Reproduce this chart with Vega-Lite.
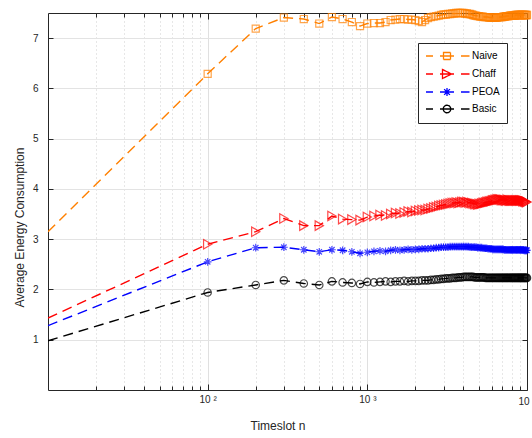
{
  "$schema": "https://vega.github.io/schema/vega-lite/v6.json",
  "width": 479,
  "height": 377,
  "autosize": {"type": "none"},
  "padding": {"left": 48, "top": 13, "right": 5, "bottom": 48},
  "background": "white",
  "config": {
    "view": {"stroke": null},
    "font": "Liberation Sans",
    "legend": {
      "orient": "none", "legendX": 370, "legendY": 30, "title": null,
      "strokeColor": "#262626", "fillColor": "white", "padding": 7,
      "labelFont": "Liberation Sans", "labelFontSize": 10, "labelColor": "#000000",
      "symbolSize": 100, "symbolStrokeWidth": 1.3,
      "rowPadding": 3, "labelOffset": 35
    }
  },
  "data": {"values": [
    {"n":10,"Naive":3.15,"Chaff":1.43,"PEOA":1.28,"Basic":0.98},
    {"n":100,"Naive":6.29,"Chaff":2.90,"PEOA":2.55,"Basic":1.94},
    {"n":200,"Naive":7.19,"Chaff":3.15,"PEOA":2.83,"Basic":2.09},
    {"n":300,"Naive":7.41,"Chaff":3.41,"PEOA":2.84,"Basic":2.18},
    {"n":400,"Naive":7.38,"Chaff":3.27,"PEOA":2.79,"Basic":2.12},
    {"n":500,"Naive":7.29,"Chaff":3.27,"PEOA":2.75,"Basic":2.09},
    {"n":600,"Naive":7.42,"Chaff":3.46,"PEOA":2.79,"Basic":2.16},
    {"n":700,"Naive":7.38,"Chaff":3.40,"PEOA":2.78,"Basic":2.14},
    {"n":800,"Naive":7.32,"Chaff":3.39,"PEOA":2.75,"Basic":2.13},
    {"n":900,"Naive":7.24,"Chaff":3.38,"PEOA":2.72,"Basic":2.11},
    {"n":1000,"Naive":7.29,"Chaff":3.44,"PEOA":2.74,"Basic":2.15},
    {"n":1100,"Naive":7.30,"Chaff":3.46,"PEOA":2.76,"Basic":2.14},
    {"n":1200,"Naive":7.30,"Chaff":3.48,"PEOA":2.77,"Basic":2.15},
    {"n":1300,"Naive":7.32,"Chaff":3.47,"PEOA":2.76,"Basic":2.16},
    {"n":1400,"Naive":7.36,"Chaff":3.50,"PEOA":2.78,"Basic":2.15},
    {"n":1500,"Naive":7.37,"Chaff":3.52,"PEOA":2.79,"Basic":2.16},
    {"n":1600,"Naive":7.38,"Chaff":3.51,"PEOA":2.78,"Basic":2.16},
    {"n":1700,"Naive":7.38,"Chaff":3.53,"PEOA":2.79,"Basic":2.17},
    {"n":1800,"Naive":7.37,"Chaff":3.55,"PEOA":2.80,"Basic":2.16},
    {"n":1900,"Naive":7.37,"Chaff":3.54,"PEOA":2.79,"Basic":2.17},
    {"n":2000,"Naive":7.36,"Chaff":3.56,"PEOA":2.80,"Basic":2.17},
    {"n":2100,"Naive":7.34,"Chaff":3.57,"PEOA":2.80,"Basic":2.17},
    {"n":2200,"Naive":7.32,"Chaff":3.58,"PEOA":2.81,"Basic":2.18},
    {"n":2300,"Naive":7.36,"Chaff":3.58,"PEOA":2.81,"Basic":2.18},
    {"n":2400,"Naive":7.40,"Chaff":3.60,"PEOA":2.81,"Basic":2.18},
    {"n":2500,"Naive":7.42,"Chaff":3.61,"PEOA":2.82,"Basic":2.19},
    {"n":2600,"Naive":7.43,"Chaff":3.63,"PEOA":2.82,"Basic":2.19},
    {"n":2700,"Naive":7.44,"Chaff":3.64,"PEOA":2.83,"Basic":2.20},
    {"n":2800,"Naive":7.45,"Chaff":3.66,"PEOA":2.83,"Basic":2.20},
    {"n":2900,"Naive":7.46,"Chaff":3.67,"PEOA":2.84,"Basic":2.21},
    {"n":3000,"Naive":7.47,"Chaff":3.68,"PEOA":2.84,"Basic":2.21},
    {"n":3100,"Naive":7.47,"Chaff":3.69,"PEOA":2.84,"Basic":2.22},
    {"n":3200,"Naive":7.48,"Chaff":3.70,"PEOA":2.84,"Basic":2.22},
    {"n":3300,"Naive":7.48,"Chaff":3.71,"PEOA":2.85,"Basic":2.22},
    {"n":3400,"Naive":7.49,"Chaff":3.72,"PEOA":2.85,"Basic":2.23},
    {"n":3500,"Naive":7.49,"Chaff":3.72,"PEOA":2.85,"Basic":2.23},
    {"n":3600,"Naive":7.50,"Chaff":3.73,"PEOA":2.85,"Basic":2.23},
    {"n":3700,"Naive":7.50,"Chaff":3.72,"PEOA":2.85,"Basic":2.24},
    {"n":3800,"Naive":7.50,"Chaff":3.73,"PEOA":2.85,"Basic":2.24},
    {"n":3900,"Naive":7.50,"Chaff":3.74,"PEOA":2.85,"Basic":2.24},
    {"n":4000,"Naive":7.50,"Chaff":3.74,"PEOA":2.85,"Basic":2.25},
    {"n":4100,"Naive":7.49,"Chaff":3.73,"PEOA":2.85,"Basic":2.25},
    {"n":4200,"Naive":7.49,"Chaff":3.74,"PEOA":2.85,"Basic":2.25},
    {"n":4300,"Naive":7.48,"Chaff":3.73,"PEOA":2.85,"Basic":2.25},
    {"n":4400,"Naive":7.48,"Chaff":3.72,"PEOA":2.84,"Basic":2.25},
    {"n":4500,"Naive":7.47,"Chaff":3.72,"PEOA":2.84,"Basic":2.25},
    {"n":4600,"Naive":7.46,"Chaff":3.71,"PEOA":2.84,"Basic":2.25},
    {"n":4700,"Naive":7.45,"Chaff":3.70,"PEOA":2.84,"Basic":2.24},
    {"n":4800,"Naive":7.45,"Chaff":3.70,"PEOA":2.84,"Basic":2.24},
    {"n":4900,"Naive":7.44,"Chaff":3.69,"PEOA":2.83,"Basic":2.24},
    {"n":5000,"Naive":7.44,"Chaff":3.70,"PEOA":2.83,"Basic":2.24},
    {"n":5100,"Naive":7.43,"Chaff":3.70,"PEOA":2.83,"Basic":2.24},
    {"n":5200,"Naive":7.43,"Chaff":3.71,"PEOA":2.83,"Basic":2.24},
    {"n":5300,"Naive":7.43,"Chaff":3.72,"PEOA":2.82,"Basic":2.24},
    {"n":5400,"Naive":7.42,"Chaff":3.72,"PEOA":2.82,"Basic":2.24},
    {"n":5500,"Naive":7.42,"Chaff":3.73,"PEOA":2.82,"Basic":2.23},
    {"n":5600,"Naive":7.42,"Chaff":3.74,"PEOA":2.82,"Basic":2.23},
    {"n":5700,"Naive":7.42,"Chaff":3.74,"PEOA":2.81,"Basic":2.23},
    {"n":5800,"Naive":7.41,"Chaff":3.75,"PEOA":2.81,"Basic":2.23},
    {"n":5900,"Naive":7.41,"Chaff":3.75,"PEOA":2.81,"Basic":2.23},
    {"n":6000,"Naive":7.41,"Chaff":3.76,"PEOA":2.81,"Basic":2.23},
    {"n":6100,"Naive":7.41,"Chaff":3.77,"PEOA":2.80,"Basic":2.23},
    {"n":6200,"Naive":7.41,"Chaff":3.77,"PEOA":2.80,"Basic":2.23},
    {"n":6300,"Naive":7.41,"Chaff":3.78,"PEOA":2.80,"Basic":2.23},
    {"n":6400,"Naive":7.41,"Chaff":3.78,"PEOA":2.80,"Basic":2.23},
    {"n":6500,"Naive":7.41,"Chaff":3.79,"PEOA":2.80,"Basic":2.23},
    {"n":6600,"Naive":7.42,"Chaff":3.79,"PEOA":2.80,"Basic":2.23},
    {"n":6700,"Naive":7.42,"Chaff":3.79,"PEOA":2.80,"Basic":2.23},
    {"n":6800,"Naive":7.42,"Chaff":3.79,"PEOA":2.80,"Basic":2.23},
    {"n":6900,"Naive":7.42,"Chaff":3.78,"PEOA":2.80,"Basic":2.23},
    {"n":7000,"Naive":7.42,"Chaff":3.78,"PEOA":2.80,"Basic":2.23},
    {"n":7100,"Naive":7.43,"Chaff":3.78,"PEOA":2.80,"Basic":2.23},
    {"n":7200,"Naive":7.43,"Chaff":3.78,"PEOA":2.79,"Basic":2.23},
    {"n":7300,"Naive":7.43,"Chaff":3.77,"PEOA":2.79,"Basic":2.23},
    {"n":7400,"Naive":7.44,"Chaff":3.77,"PEOA":2.79,"Basic":2.23},
    {"n":7500,"Naive":7.44,"Chaff":3.78,"PEOA":2.79,"Basic":2.23},
    {"n":7600,"Naive":7.44,"Chaff":3.78,"PEOA":2.79,"Basic":2.23},
    {"n":7700,"Naive":7.44,"Chaff":3.77,"PEOA":2.79,"Basic":2.23},
    {"n":7800,"Naive":7.45,"Chaff":3.77,"PEOA":2.79,"Basic":2.23},
    {"n":7900,"Naive":7.45,"Chaff":3.77,"PEOA":2.79,"Basic":2.23},
    {"n":8000,"Naive":7.45,"Chaff":3.77,"PEOA":2.79,"Basic":2.23},
    {"n":8100,"Naive":7.45,"Chaff":3.77,"PEOA":2.79,"Basic":2.23},
    {"n":8200,"Naive":7.45,"Chaff":3.77,"PEOA":2.79,"Basic":2.23},
    {"n":8300,"Naive":7.45,"Chaff":3.77,"PEOA":2.79,"Basic":2.23},
    {"n":8400,"Naive":7.45,"Chaff":3.77,"PEOA":2.79,"Basic":2.23},
    {"n":8500,"Naive":7.46,"Chaff":3.77,"PEOA":2.79,"Basic":2.23},
    {"n":8600,"Naive":7.46,"Chaff":3.77,"PEOA":2.79,"Basic":2.23},
    {"n":8700,"Naive":7.46,"Chaff":3.77,"PEOA":2.79,"Basic":2.23},
    {"n":8800,"Naive":7.46,"Chaff":3.77,"PEOA":2.79,"Basic":2.23},
    {"n":8900,"Naive":7.46,"Chaff":3.77,"PEOA":2.79,"Basic":2.23},
    {"n":9000,"Naive":7.46,"Chaff":3.77,"PEOA":2.79,"Basic":2.23},
    {"n":9100,"Naive":7.46,"Chaff":3.77,"PEOA":2.79,"Basic":2.23},
    {"n":9200,"Naive":7.46,"Chaff":3.77,"PEOA":2.79,"Basic":2.23},
    {"n":9300,"Naive":7.46,"Chaff":3.77,"PEOA":2.79,"Basic":2.23},
    {"n":9400,"Naive":7.46,"Chaff":3.76,"PEOA":2.79,"Basic":2.23},
    {"n":9500,"Naive":7.46,"Chaff":3.76,"PEOA":2.79,"Basic":2.23},
    {"n":9600,"Naive":7.46,"Chaff":3.76,"PEOA":2.78,"Basic":2.23},
    {"n":9700,"Naive":7.46,"Chaff":3.75,"PEOA":2.78,"Basic":2.23},
    {"n":9800,"Naive":7.46,"Chaff":3.75,"PEOA":2.78,"Basic":2.23},
    {"n":9900,"Naive":7.46,"Chaff":3.74,"PEOA":2.78,"Basic":2.23},
    {"n":10000,"Naive":7.46,"Chaff":3.74,"PEOA":2.78,"Basic":2.23}
  ]},
  "transform": [{"fold": ["Naive", "Chaff", "PEOA", "Basic"], "as": ["series", "value"]}],
  "encoding": {
    "x": {"field": "n", "type": "quantitative", "scale": {"type": "log", "domain": [10, 10000]}, "axis": null},
    "y": {"field": "value", "type": "quantitative", "scale": {"domain": [0, 7.5], "nice": false, "zero": false}, "axis": null}
  },
  "layer": [
    {
      "mark": {"type": "line", "strokeDash": [10, 6], "strokeWidth": 1.4, "clip": true},
      "encoding": {
        "x": {
          "field": "n", "type": "quantitative",
          "scale": {"type": "log", "domain": [10, 10000]},
          "axis": {
            "orient": "bottom",
            "values": [20,30,40,50,60,70,80,90,100,200,300,400,500,600,700,800,900,1000,2000,3000,4000,5000,6000,7000,8000,9000,10000],
            "labelExpr": "datum.value == 100 ? '10 ²' : datum.value == 1000 ? '10 ³' : datum.value == 10000 ? '10 ⁴' : ''",
            "labelOverlap": false, "labelFlush": false,
            "labelFont": "Liberation Sans", "labelFontSize": 10, "labelColor": "#262626",
            "labelPadding": 10,
            "tickSize": {"condition": {"test": "datum.value == 100 || datum.value == 1000", "value": -6}, "value": -4},
            "tickColor": "#262626", "domainColor": "#262626", "domainWidth": 1,
            "grid": true,
            "gridColor": {"condition": {"test": "datum.value == 100 || datum.value == 1000", "value": "#e0e0e0"}, "value": "#cfcfcf"},
            "gridDash": {"condition": {"test": "datum.value == 100 || datum.value == 1000", "value": []}, "value": [1, 3]},
            "title": "Timeslot n", "titleFont": "Liberation Sans", "titleFontSize": 12, "titleFontWeight": "normal",
            "titleColor": "#262626", "titleX": 229.5, "titleY": 39.3, "titleBaseline": "alphabetic", "titleAlign": "center"
          }
        },
        "y": {
          "field": "value", "type": "quantitative",
          "scale": {"domain": [0, 7.5], "nice": false, "zero": false},
          "axis": {
            "orient": "left",
            "values": [1,2,3,4,5,6,7],
            "labelFont": "Liberation Sans", "labelFontSize": 10, "labelColor": "#262626",
            "labelPadding": 15,
            "tickSize": -5, "tickColor": "#262626", "domainColor": "#262626", "domainWidth": 1,
            "grid": true, "gridColor": "#e3e3e3",
            "title": "Average Energy Consumption", "titleFont": "Liberation Sans", "titleFontSize": 12, "titleFontWeight": "normal",
            "titleColor": "#262626", "titleX": -25, "titleY": 214, "titleBaseline": "alphabetic", "titleAlign": "center", "titleAngle": -90
          }
        },
        "color": {
          "field": "series", "type": "nominal",
          "scale": {"domain": ["Naive", "Chaff", "PEOA", "Basic"], "range": ["#ff8000", "#ff0000", "#0000ff", "#000000"]},
          "legend": {
            "symbolDash": [1, 0],
            "encoding": {
              "symbols": {
                "shape": {
                  "condition": [
                    {"test": "datum.value === 'Naive'", "value": "M-1,0H0.4M1.8,0H4.6M6,0H7.7M2.5,-0.7H3.9V0.7H2.5Z"},
                    {"test": "datum.value === 'Chaff'", "value": "M-1,0H0.4M1.8,0H4.6M6,0H7.7M2.3,-0.9L4.1,0L2.3,0.9Z"},
                    {"test": "datum.value === 'PEOA'", "value": "M-1,0H0.4M1.8,0H4.6M6,0H7.7M3.2,-0.8V0.8M2.4,0H4M2.63,-0.57L3.77,0.57M2.63,0.57L3.77,-0.57"}
                  ],
                  "value": "M-1,0H0.4M1.8,0H4.6M6,0H7.7M3.95,0A0.75,0.75 0 1,1 2.45,0A0.75,0.75 0 1,1 3.95,0"
                },
                "fill": {"value": "transparent"},
                "strokeDash": {"value": [1, 0]},
                "size": {"value": 100},
                "strokeWidth": {"value": 1.3}
              }
            }
          }
        }
      }
    },
    {
      "transform": [{"filter": "datum.n >= 100 && datum.series === 'Naive'"}],
      "mark": {"type": "point", "shape": "square", "filled": false, "color": "#ff8000", "size": 50, "strokeWidth": 1.2, "clip": false},
      "encoding": {
        "x": {
          "field": "n", "type": "quantitative",
          "scale": {"type": "log", "domain": [10, 10000]},
          "axis": {
            "orient": "top",
            "values": [20,30,40,50,60,70,80,90,100,200,300,400,500,600,700,800,900,1000,2000,3000,4000,5000,6000,7000,8000,9000,10000],
            "labels": false, "grid": false, "title": null,
            "tickSize": {"condition": {"test": "datum.value == 100 || datum.value == 1000", "value": -6}, "value": -4},
            "tickColor": "#262626", "domainColor": "#262626", "domainWidth": 1
          }
        },
        "y": {
          "field": "value", "type": "quantitative",
          "scale": {"domain": [0, 7.5], "nice": false, "zero": false},
          "axis": {
            "orient": "right", "values": [1,2,3,4,5,6,7],
            "labels": false, "grid": false, "title": null,
            "tickSize": -5, "tickColor": "#262626", "domainColor": "#262626", "domainWidth": 1
          }
        }
      }
    },
    {
      "transform": [{"filter": "datum.n >= 100 && datum.series === 'Chaff'"}],
      "mark": {"type": "point", "shape": "triangle-right", "filled": false, "color": "#ff0000", "size": 90, "strokeWidth": 1.2, "clip": false}
    },
    {
      "transform": [{"filter": "datum.n >= 100 && datum.series === 'PEOA'"}],
      "mark": {"type": "point", "shape": "M0,-1V1M-1,0H1M-0.7,-0.7L0.7,0.7M-0.7,0.7L0.7,-0.7", "filled": false, "color": "#0000ff", "size": 60, "strokeWidth": 1.2, "clip": false}
    },
    {
      "transform": [{"filter": "datum.n >= 100 && datum.series === 'Basic'"}],
      "mark": {"type": "point", "shape": "circle", "filled": false, "color": "#000000", "size": 55, "strokeWidth": 1.2, "clip": false}
    }
  ],
  "resolve": {"axis": {"x": "independent", "y": "independent"}}
}
